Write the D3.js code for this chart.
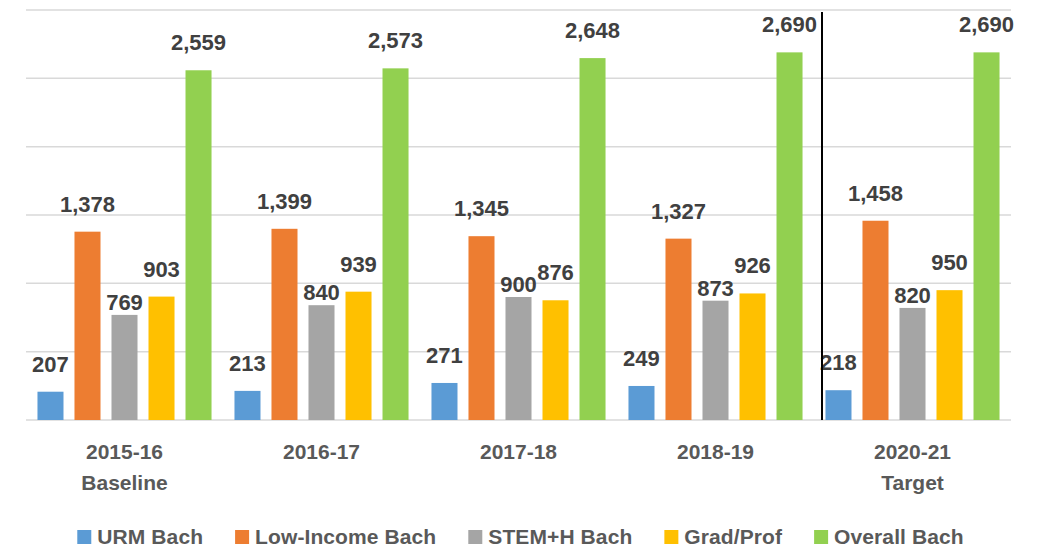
<!DOCTYPE html>
<html>
<head>
<meta charset="utf-8">
<script src="https://cdn.jsdelivr.net/npm/d3@7"></script>
<style>
  body { margin: 0; background: #fff; }
  text { font-family: "Liberation Sans", Arial, sans-serif; font-weight: bold; }
</style>
</head>
<body>
<script>
// chart data
const years = ["2015-16", "2016-17", "2017-18", "2018-19", "2020-21"];
const subLabels = ["Baseline", "", "", "", "Target"];
const seriesNames = ["URM Bach", "Low-Income Bach", "STEM+H Bach", "Grad/Prof", "Overall Bach"];
const urm = [207, 213, 271, 249, 218];
const lowIncome = [1378, 1399, 1345, 1327, 1458];
const stem = [769, 840, 900, 873, 820];
const gradProf = [903, 939, 876, 926, 950];
const overall = [2559, 2573, 2648, 2690, 2690];
const yTicks = [0, 500, 1000, 1500, 2000, 2500, 3000];

const colors = ["#5B9BD5", "#ED7D31", "#A5A5A5", "#FFC000", "#92D050"];
const labelGap = [20, 20, 5, 20, 20];
const allSeries = [urm, lowIncome, stem, gradProf, overall];

const W = 1045, H = 550;
const svg = d3.select("body").append("svg")
    .attr("width", W)
    .attr("height", H);

const x = d3.scaleBand().domain(years).range([26, 1011]).padding(0);
const xs = d3.scaleBand().domain(seriesNames).range([0, x.bandwidth()])
    .paddingInner(0.297).paddingOuter(0.31);
const y = d3.scaleLinear().domain([0, 3000]).range([420, 10]);

// gridlines
svg.append("g").selectAll("line")
    .data(yTicks)
    .join("line")
    .attr("x1", 26).attr("x2", 1011)
    .attr("y1", d => y(d)).attr("y2", d => y(d))
    .attr("stroke", "#D9D9D9")
    .attr("stroke-width", 1.5);

// bars
const groups = svg.append("g").selectAll("g")
    .data(years)
    .join("g")
    .attr("transform", d => `translate(${x(d)},0)`);

groups.selectAll("rect")
    .data((d, i) => seriesNames.map((s, j) => ({ s: s, j: j, v: allSeries[j][i] })))
    .join("rect")
    .attr("x", d => xs(d.s))
    .attr("y", d => y(d.v))
    .attr("width", xs.bandwidth())
    .attr("height", d => y(0) - y(d.v))
    .attr("fill", d => colors[d.j]);

groups.selectAll("text.val")
    .data((d, i) => seriesNames.map((s, j) => ({ s: s, j: j, v: allSeries[j][i] })))
    .join("text")
    .attr("class", "val")
    .attr("x", d => xs(d.s) + xs.bandwidth() / 2)
    .attr("y", d => y(d.v) - labelGap[d.j])
    .attr("text-anchor", "middle")
    .attr("font-size", 22)
    .attr("fill", "#404040")
    .text(d => d3.format(",")(d.v));

// separator before target
svg.append("line")
    .attr("x1", x("2020-21") + 8).attr("x2", x("2020-21") + 8)
    .attr("y1", 12).attr("y2", y(0))
    .attr("stroke", "#000")
    .attr("stroke-width", 2);

// category labels
const cat = svg.append("g");
years.forEach((d, i) => {
  const cx = x(d) + x.bandwidth() / 2;
  cat.append("text")
      .attr("x", cx).attr("y", 459)
      .attr("text-anchor", "middle")
      .attr("font-size", 21)
      .attr("fill", "#595959")
      .text(d);
  if (subLabels[i]) {
    cat.append("text")
        .attr("x", cx).attr("y", 490)
        .attr("text-anchor", "middle")
        .attr("font-size", 21)
        .attr("fill", "#595959")
        .text(subLabels[i]);
  }
});

// legend
const legend = svg.append("g");
let lx = 0;
seriesNames.forEach((s, i) => {
  const it = legend.append("g").attr("transform", `translate(${lx},0)`);
  it.append("rect")
      .attr("x", 0).attr("y", -14)
      .attr("width", 14).attr("height", 14)
      .attr("fill", colors[i]);
  const t = it.append("text")
      .attr("x", 20).attr("y", 0)
      .attr("font-size", 21)
      .attr("letter-spacing", 0.1)
      .attr("fill", "#595959")
      .text(s);
  lx += 20 + t.node().getComputedTextLength() + 32;
});
const legW = lx - 32;
legend.attr("transform", `translate(${(W - legW) / 2 - 2},544)`);
</script>
</body>
</html>
